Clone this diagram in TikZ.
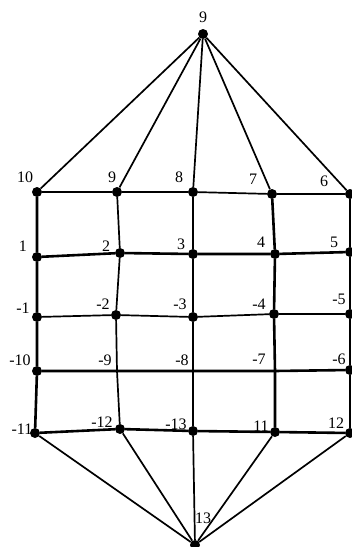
\documentclass[tikz,border=0pt]{standalone}
\usepackage{fontspec}
\setmainfont{Liberation Serif}
\begin{document}
\begin{tikzpicture}[x=1pt,y=-1pt,
  dot/.style={circle,fill=black,inner sep=0pt,minimum size=10pt},
  lbl/.style={inner sep=0pt,font=\fontsize{16}{16}\selectfont},
  thinln/.style={line width=1.7pt},
  thickln/.style={line width=2.6pt},
  diag/.style={line width=1.7pt}]
\useasboundingbox (0,0) rectangle (352,547);
% vertices
\node[dot] (top) at (203,34) {};
\node[dot] (bot) at (195,545) {};
\node[dot] (a1) at (37,192) {};
\node[dot] (b1) at (117,192) {};
\node[dot] (c1) at (193,192) {};
\node[dot] (d1) at (272,194) {};
\node[dot] (e1) at (350,194) {};
\node[dot] (a2) at (37,257) {};
\node[dot] (b2) at (120,253) {};
\node[dot] (c2) at (193,254) {};
\node[dot] (d2) at (275,254) {};
\node[dot] (e2) at (350,252) {};
\node[dot] (a3) at (37,317) {};
\node[dot] (b3) at (116,315) {};
\node[dot] (c3) at (193,317) {};
\node[dot] (d3) at (274,314) {};
\node[dot] (e3) at (350,314) {};
\node[dot] (a4) at (37,371) {};
\coordinate (b4) at (117,371);
\coordinate (c4) at (193,371);
\coordinate (d4) at (275,371);
\node[dot] (e4) at (350,370) {};
\node[dot] (a5) at (35,433) {};
\node[dot] (b5) at (120,429) {};
\node[dot] (c5) at (193,431) {};
\node[dot] (d5) at (275,432) {};
\node[dot] (e5) at (350,433) {};
% fan lines
\foreach \n in {a1,b1,c1,d1,e1} \draw[diag] (top) -- (\n);
\foreach \n in {a5,b5,c5,d5,e5} \draw[diag] (bot) -- (\n);
% rows
\draw[thinln] (a1) -- (b1) -- (c1) -- (d1) -- (e1);
\draw[thickln] (a2) -- (b2) -- (c2) -- (d2) -- (e2);
\draw[thinln] (a3) -- (b3) -- (c3) -- (d3) -- (e3);
\draw[thickln] (a4) -- (b4) -- (c4) -- (d4) -- (e4);
\draw[thickln] (a5) -- (b5) -- (c5) -- (d5) -- (e5);
% columns
\draw[thickln] (a1) -- (a2) -- (a3) -- (a4) -- (a5);
\draw[thinln] (b1) -- (b2) -- (b3) -- (b4) -- (b5);
\draw[thinln] (c1) -- (c2) -- (c3) -- (c4) -- (c5);
\draw[thickln] (d1) -- (d2) -- (d3) -- (d4) -- (d5);
\draw[thickln] (e1) -- (e2) -- (e3) -- (e4) -- (e5);
% labels
\node[lbl] (ltop) at (203,17) {9};
\node[lbl] (la1) at (25,177) {10};
\node[lbl] (lb1) at (112,177) {9};
\node[lbl] (lc1) at (179,177) {8};
\node[lbl] (ld1) at (253,179) {7};
\node[lbl] (le1) at (324,181) {6};
\node[lbl] (la2) at (23,246) {1};
\node[lbl] (lb2) at (106,246) {2};
\node[lbl] (lc2) at (181,244) {3};
\node[lbl] (ld2) at (261,242) {4};
\node[lbl] (le2) at (334,242) {5};
\node[lbl] (la3) at (23,308) {-1};
\node[lbl] (lb3) at (103,304) {-2};
\node[lbl] (lc3) at (180,304) {-3};
\node[lbl] (ld3) at (259,304) {-4};
\node[lbl] (le3) at (339,299) {-5};
\node[lbl] (la4) at (20,360) {-10};
\node[lbl] (lb4) at (105,360) {-9};
\node[lbl] (lc4) at (182,360) {-8};
\node[lbl] (ld4) at (259,359) {-7};
\node[lbl] (le4) at (339,359) {-6};
\node[lbl] (la5) at (22,429) {-11};
\node[lbl] (lb5) at (102,422) {-12};
\node[lbl] (lc5) at (176,424) {-13};
\node[lbl] (ld5) at (261,426) {11};
\node[lbl] (le5) at (336,423) {12};
\node[lbl] (lbot) at (203,518) {13};
\end{tikzpicture}
\end{document}
